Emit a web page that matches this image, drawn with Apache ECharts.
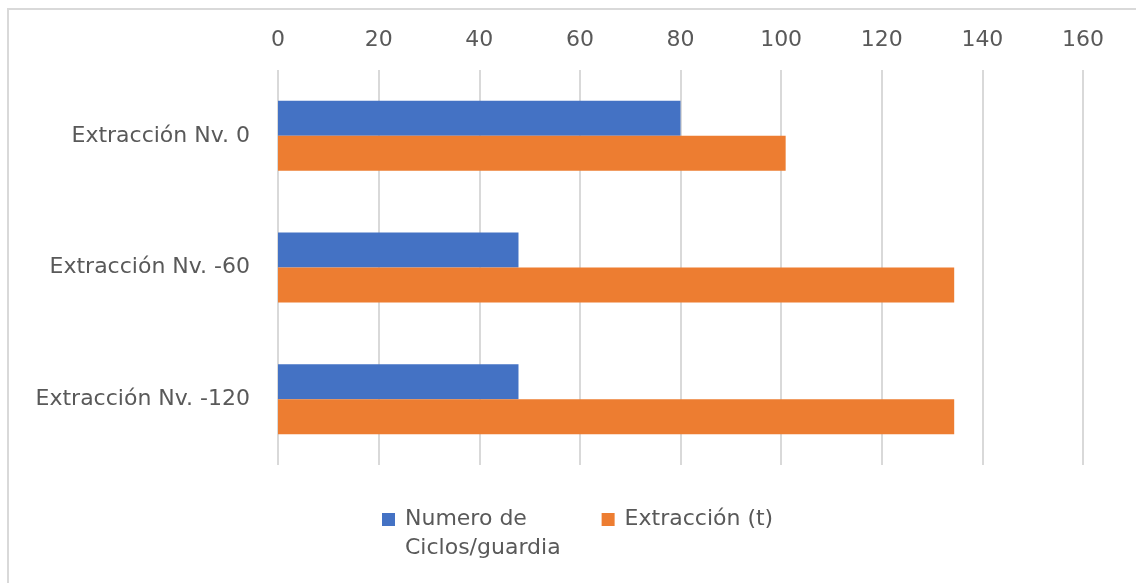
<!DOCTYPE html>
<html>
<head>
<meta charset="utf-8">
<script src="https://cdn.jsdelivr.net/npm/echarts@6/dist/echarts.min.js"></script>
<style>
  html, body { margin: 0; padding: 0; background: #fff; }
  #chartDiv { width: 1136px; height: 583px; }
</style>
</head>
<body>
<div id="chartDiv"></div>
<script>
// datos
const categorias = ['Extracción Nv. 0', 'Extracción Nv. -60', 'Extracción Nv. -120']
const ciclosGuardia = [80, 47.8, 47.8]
const extraccion = [100.9, 134.4, 134.4]
const ejeTicks = [0, 20, 40, 60, 80, 100, 120, 140, 160]

const azul = '#4472c4'
const naranja = '#ed7d31'
const gris = '#595959'
const fuente = 'DejaVu Sans'
const tam = 22

// icono cuadrado arriba, caja alta para alinear con la primera linea del texto
const iconoLeyenda = 'path://M0,0h13v13h-13z M17.99,41.99h0.01v0.01h-0.01z'

const chart = echarts.init(document.getElementById('chartDiv'))

const option = {
  animation: false,
  textStyle: { fontFamily: fuente },
  graphic: [
    {
      // solo borde superior e izquierdo, el resto queda fuera de la imagen
      type: 'polyline',
      shape: { points: [[8, 600], [8, 9], [1140, 9]] },
      style: { fill: 'none', stroke: '#d9d9d9', lineWidth: 2 },
      silent: true
    }
  ],
  grid: { left: 278, right: 53, top: 70, bottom: 118 },
  xAxis: {
    type: 'value',
    position: 'top',
    min: ejeTicks[0],
    max: ejeTicks[ejeTicks.length - 1],
    interval: 20,
    axisLine: { show: false },
    axisTick: { show: false },
    axisLabel: { color: gris, fontSize: tam, margin: 19, fontFamily: fuente },
    splitLine: { lineStyle: { color: '#d9d9d9', width: 2 } }
  },
  yAxis: {
    type: 'category',
    inverse: true,
    data: categorias,
    axisLine: { show: false },
    axisTick: { show: false },
    axisLabel: { color: gris, fontSize: tam, margin: 28, fontFamily: fuente }
  },
  legend: {
    left: 377,
    top: 500,
    itemWidth: 18,
    itemHeight: 42,
    itemGap: 41,
    icon: iconoLeyenda,
    textStyle: { color: gris, fontSize: tam, lineHeight: 29, fontFamily: fuente },
    data: ['Numero de Ciclos/guardia', 'Extracción (t)'],
    formatter: function (name) {
      return name === 'Numero de Ciclos/guardia' ? 'Numero de\nCiclos/guardia' : name + '\n '
    }
  },
  series: [
    {
      name: 'Numero de Ciclos/guardia',
      type: 'bar',
      data: ciclosGuardia,
      barWidth: 35,
      barGap: '0%',
      itemStyle: { color: azul }
    },
    {
      name: 'Extracción (t)',
      type: 'bar',
      data: extraccion,
      barWidth: 35,
      barGap: '0%',
      itemStyle: { color: naranja }
    }
  ]
}

chart.setOption(option)
</script>
</body>
</html>
